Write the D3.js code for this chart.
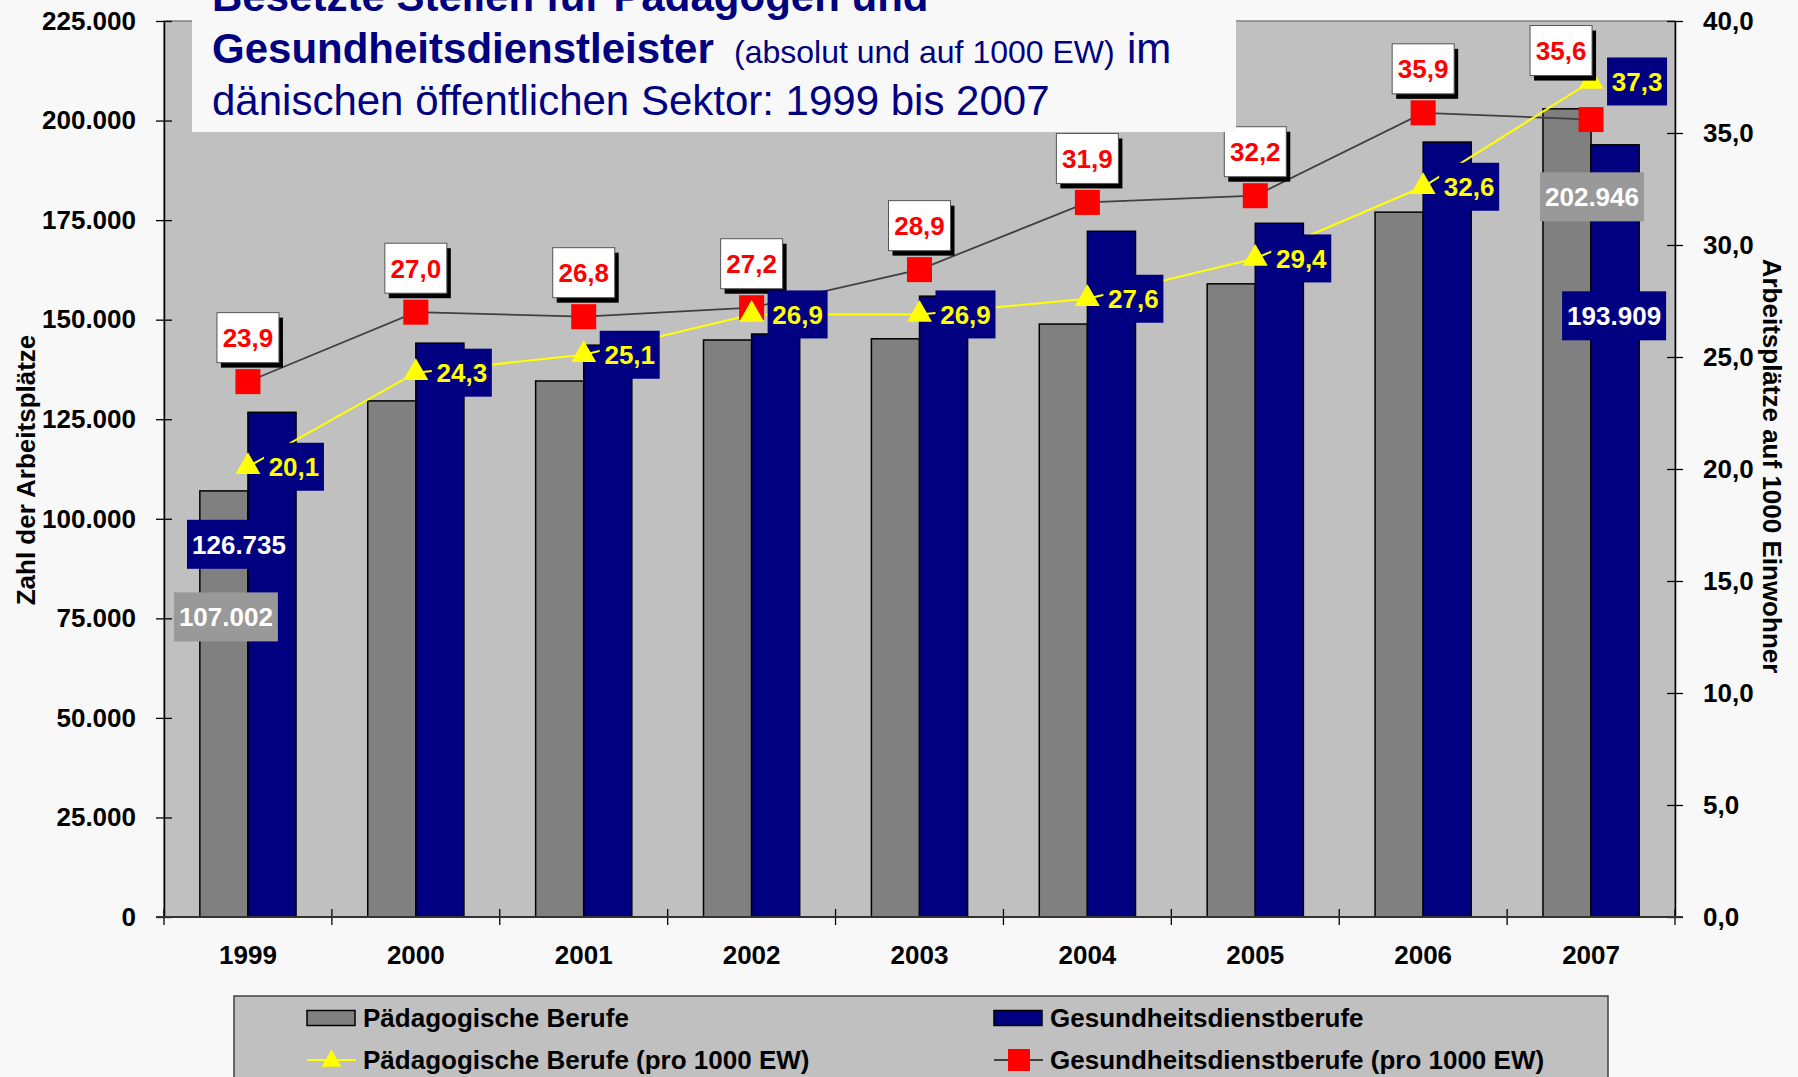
<!DOCTYPE html>
<html>
<head>
<meta charset="utf-8">
<script src="https://cdn.jsdelivr.net/npm/d3@7"></script>
<style>
body { margin: 0; background: #f8f8f8; }
svg text { font-family: Arial, "Liberation Sans", sans-serif; }
</style>
</head>
<body>
<svg id="main"></svg>
<script>
const width = 1798;
const height = 1077;
const position = { left: 164, top: 21, right: 123, bottom: 160 };
const innerWidth = width - position.left - position.right;
const innerHeight = height - position.top - position.bottom;

// data
const years = ['1999', '2000', '2001', '2002', '2003', '2004', '2005', '2006', '2007'];
const paedagogen = [107002, 129600, 134600, 144900, 145200, 148900, 159000, 177000, 202946];
const gesundheit = [126735, 144100, 143600, 146400, 155900, 172200, 174200, 194600, 193909];
const paedProTausend = [20.1, 24.3, 25.1, 26.9, 26.9, 27.6, 29.4, 32.6, 37.3];
const gesundProTausend = [23.9, 27.0, 26.8, 27.2, 28.9, 31.9, 32.2, 35.9, 35.6];
const leftTicks = [0, 25000, 50000, 75000, 100000, 125000, 150000, 175000, 200000, 225000];
const rightTicks = [0, 5, 10, 15, 20, 25, 30, 35, 40];
const seriesNames = ['Pädagogische Berufe', 'Gesundheitsdienstberufe',
    'Pädagogische Berufe (pro 1000 EW)', 'Gesundheitsdienstberufe (pro 1000 EW)'];

const de = d3.formatLocale({ decimal: ',', thousands: '.', grouping: [3], currency: ['', ''] });
const fmtInt = de.format(',d');
const fmtOne = de.format('.1f');

const navy = '#000080';
const grey = '#808080';

const mainSvg = d3.select('#main').attr('width', width).attr('height', height);
const g = mainSvg.append('g').attr('transform', `translate(${position.left}, ${position.top})`);

// scales
const xScale = d3.scaleBand().domain(years).range([0, innerWidth]).paddingInner(0.427).paddingOuter(0.2135);
const xSub = d3.scaleBand().domain(['p', 'g']).range([0, xScale.bandwidth()]);
const yLeft = d3.scaleLinear().domain([0, 225000]).range([innerHeight, 0]);
const yRight = d3.scaleLinear().domain([0, 40]).range([innerHeight, 0]);
const cx = yr => xScale(yr) + xScale.bandwidth() / 2;

// plot area
g.append('rect')
    .attr('width', innerWidth).attr('height', innerHeight)
    .attr('fill', '#c0c0c0').attr('stroke', '#808080').attr('stroke-width', 1.5);

// bars
const barData = years.flatMap((yr, i) => [
    { year: yr, key: 'p', value: paedagogen[i] },
    { year: yr, key: 'g', value: gesundheit[i] }
]);
g.selectAll('rect.bar')
    .data(barData)
    .join('rect')
    .attr('class', 'bar')
    .attr('x', d => xScale(d.year) + xSub(d.key))
    .attr('y', d => yLeft(d.value))
    .attr('width', xSub.bandwidth())
    .attr('height', d => innerHeight - yLeft(d.value))
    .attr('fill', d => d.key === 'p' ? grey : navy)
    .attr('stroke', '#000').attr('stroke-width', 1.5);

// axes
const leftAxis = g.append('g')
    .call(d3.axisLeft(yLeft).tickValues(leftTicks).tickFormat(fmtInt).tickSizeOuter(0).tickPadding(22));
const rightAxis = g.append('g')
    .attr('transform', `translate(${innerWidth},0)`)
    .call(d3.axisRight(yRight).tickValues(rightTicks).tickFormat(fmtOne).tickSizeOuter(0).tickPadding(22));
[leftAxis, rightAxis].forEach(ax => {
    ax.selectAll('.tick line').attr('x1', -8).attr('x2', 8).attr('stroke', '#000').attr('stroke-width', 1.3);
    ax.select('.domain').attr('stroke', '#000').attr('stroke-width', 1.5);
    ax.selectAll('text').attr('font-size', 26).attr('font-weight', 'bold').attr('fill', '#000');
});

const xAxis = g.append('g')
    .attr('transform', `translate(0,${innerHeight})`)
    .call(d3.axisBottom(xScale).tickSize(0).tickPadding(29));
xAxis.select('.domain').remove();
xAxis.selectAll('text').attr('font-size', 26).attr('font-weight', 'bold').attr('fill', '#000');

const boundary = d3.scaleLinear().domain([0, years.length]).range([0, innerWidth]);
g.append('g')
    .attr('transform', `translate(0,${innerHeight})`)
    .selectAll('line')
    .data(d3.range(years.length + 1))
    .join('line')
    .attr('x1', d => boundary(d)).attr('x2', d => boundary(d))
    .attr('y1', -8).attr('y2', 8)
    .attr('stroke', '#000').attr('stroke-width', 1.3);
g.append('line')
    .attr('x1', -8).attr('x2', innerWidth + 8)
    .attr('y1', innerHeight).attr('y2', innerHeight)
    .attr('stroke', '#333').attr('stroke-width', 2);

// lines
const gesundLine = years.map((yr, i) => ({ year: yr, value: gesundProTausend[i] }));
const paedLine = years.map((yr, i) => ({ year: yr, value: paedProTausend[i] }));
const line = d3.line().x(d => cx(d.year)).y(d => yRight(d.value));

g.append('path').datum(gesundLine).attr('d', line)
    .attr('fill', 'none').attr('stroke', '#404040').attr('stroke-width', 1.8);
g.append('path').datum(paedLine).attr('d', line)
    .attr('fill', 'none').attr('stroke', '#ffff00').attr('stroke-width', 2);

g.selectAll('rect.sq')
    .data(gesundLine)
    .join('rect')
    .attr('class', 'sq')
    .attr('x', d => cx(d.year) - 12.5).attr('y', d => yRight(d.value) - 12.5)
    .attr('width', 25).attr('height', 25)
    .attr('fill', '#ff0000');

const tri = d3.symbol().type(d3.symbolTriangle).size(270);
g.selectAll('path.tri')
    .data(paedLine)
    .join('path')
    .attr('class', 'tri')
    .attr('d', tri)
    .attr('transform', d => `translate(${cx(d.year)},${yRight(d.value)})`)
    .attr('fill', '#ffff00');

// red value labels (white boxes with shadow)
const redShift = { '2007': [-30, -25] };
const redLabels = g.selectAll('g.red')
    .data(gesundLine)
    .join('g')
    .attr('class', 'red')
    .attr('transform', d => {
        const s = redShift[d.year] || [0, 0];
        return `translate(${cx(d.year) + s[0]},${yRight(d.value) - 44 + s[1]})`;
    });
redLabels.append('rect')
    .attr('x', -31 + 4).attr('y', -25 + 5).attr('width', 62).attr('height', 50).attr('fill', '#000');
redLabels.append('rect')
    .attr('x', -31).attr('y', -25).attr('width', 62).attr('height', 50)
    .attr('fill', '#fff').attr('stroke', '#555').attr('stroke-width', 1);
redLabels.append('text')
    .attr('text-anchor', 'middle').attr('dy', '0.36em')
    .attr('font-size', 26).attr('font-weight', 'bold').attr('fill', '#ff0000')
    .text(d => fmtOne(d.value));

// yellow value labels (navy boxes)
const yellowLabels = g.selectAll('g.yel')
    .data(paedLine)
    .join('g')
    .attr('class', 'yel')
    .attr('transform', d => `translate(${cx(d.year) + 46},${yRight(d.value)})`);
yellowLabels.append('rect')
    .attr('x', -30).attr('y', -24).attr('width', 60).attr('height', 48).attr('fill', navy);
yellowLabels.append('text')
    .attr('text-anchor', 'middle').attr('dy', '0.36em')
    .attr('font-size', 26).attr('font-weight', 'bold').attr('fill', '#ffff00')
    .text(d => fmtOne(d.value));

// bar value labels (first and last year)
const barLabelPlace = [
    { year: '1999', key: 'p', dx: 2, dy: 126 },
    { year: '1999', key: 'g', dx: -33, dy: 132 },
    { year: '2007', key: 'p', dx: 25, dy: 88 },
    { year: '2007', key: 'g', dx: -1, dy: 171 }
];
const barLabels = g.selectAll('g.bl')
    .data(barLabelPlace.map(p => Object.assign({}, p,
        barData.find(b => b.year === p.year && b.key === p.key))))
    .join('g')
    .attr('class', 'bl')
    .attr('transform', d => `translate(${xScale(d.year) + xSub(d.key) + xSub.bandwidth() / 2 + d.dx},${yLeft(d.value) + d.dy})`);
barLabels.append('rect')
    .attr('x', -52).attr('y', -24.5).attr('width', 104).attr('height', 49)
    .attr('fill', d => d.key === 'p' ? '#999999' : navy);
barLabels.append('text')
    .attr('text-anchor', 'middle').attr('dy', '0.36em')
    .attr('font-size', 26).attr('font-weight', 'bold').attr('fill', '#fff')
    .text(d => fmtInt(d.value));

// axis titles
mainSvg.append('text')
    .attr('transform', `translate(26,${position.top + innerHeight / 2 + 1}) rotate(-90)`)
    .attr('text-anchor', 'middle').attr('dy', '0.36em')
    .attr('font-size', 26).attr('font-weight', 'bold')
    .text('Zahl der Arbeitsplätze');
mainSvg.append('text')
    .attr('transform', `translate(1772,${position.top + innerHeight / 2 - 3}) rotate(90)`)
    .attr('text-anchor', 'middle').attr('dy', '0.36em')
    .attr('font-size', 26).attr('font-weight', 'bold')
    .text('Arbeitsplätze auf 1000 Einwohner');

// title box
mainSvg.append('rect')
    .attr('x', 192).attr('y', 0).attr('width', 1044).attr('height', 132)
    .attr('fill', '#f8f8f8');
const title = mainSvg.append('text').attr('fill', navy).attr('font-size', 42);
title.append('tspan').attr('x', 212).attr('y', 11).attr('font-weight', 'bold')
    .text('Besetzte Stellen für Pädagogen und');
title.append('tspan').attr('x', 212).attr('y', 63).attr('font-weight', 'bold')
    .text('Gesundheitsdienstleister');
title.append('tspan').attr('x', 734).attr('y', 63).attr('font-size', 32)
    .text('(absolut und auf 1000 EW)');
title.append('tspan').attr('x', 1127).attr('y', 63)
    .text('im');
title.append('tspan').attr('x', 212).attr('y', 115)
    .text('dänischen öffentlichen Sektor: 1999 bis 2007');

// legend
const legend = mainSvg.append('g');
legend.append('rect')
    .attr('x', 234).attr('y', 996).attr('width', 1374).attr('height', 120)
    .attr('fill', '#c0c0c0').attr('stroke', '#404040').attr('stroke-width', 1.5);
const legendItems = seriesNames.map((name, i) => ({
    name, kind: i < 2 ? 'bar' : 'line', idx: i,
    col: i % 2, row: Math.floor(i / 2)
}));
const legendX = [307, 994];
const legendY = [1018, 1060];
const items = legend.selectAll('g.item')
    .data(legendItems)
    .join('g')
    .attr('class', 'item')
    .attr('transform', d => `translate(${legendX[d.col]},${legendY[d.row]})`);
items.filter(d => d.kind === 'bar').append('rect')
    .attr('x', 0).attr('y', -7.5).attr('width', 48).attr('height', 15)
    .attr('fill', d => d.idx === 0 ? grey : navy).attr('stroke', '#000').attr('stroke-width', 1.5);
items.filter(d => d.kind === 'line').append('line')
    .attr('x1', 0).attr('x2', 49).attr('y1', 0).attr('y2', 0)
    .attr('stroke', d => d.idx === 2 ? '#ffff00' : '#404040').attr('stroke-width', 1.8);
items.filter(d => d.idx === 2).append('path')
    .attr('d', d3.symbol().type(d3.symbolTriangle).size(170))
    .attr('transform', 'translate(24.5,1)')
    .attr('fill', '#ffff00');
items.filter(d => d.idx === 3).append('rect')
    .attr('x', 14).attr('y', -11).attr('width', 22).attr('height', 22)
    .attr('fill', '#ff0000');
items.append('text')
    .attr('x', 56).attr('dy', '0.36em')
    .attr('font-size', 26).attr('font-weight', 'bold').attr('fill', '#000')
    .text(d => d.name);
</script>
</body>
</html>
